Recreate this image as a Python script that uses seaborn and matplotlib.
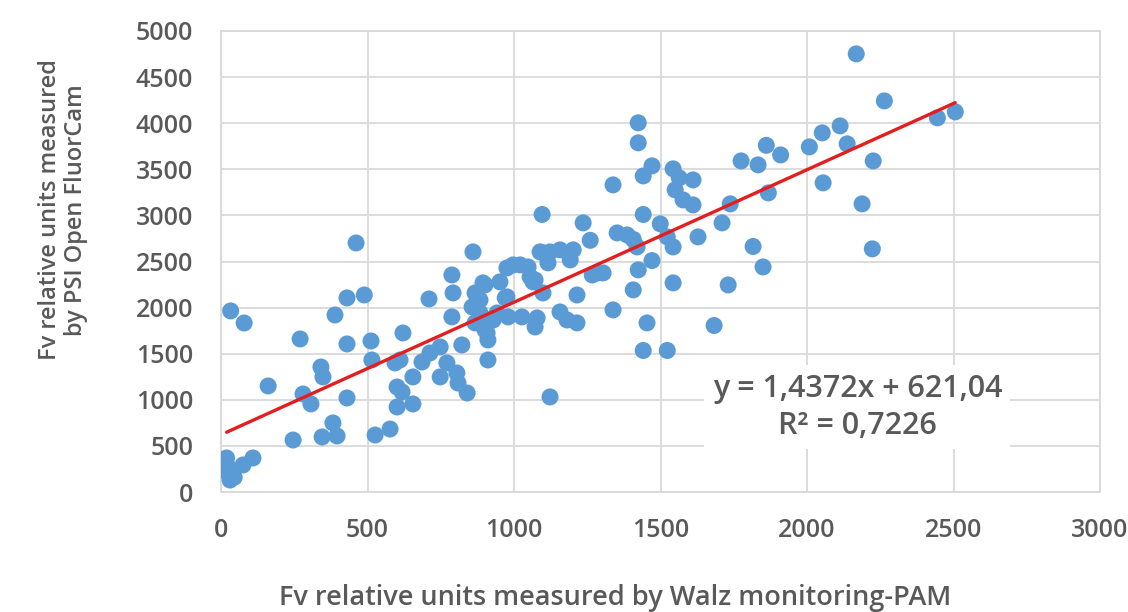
import matplotlib
matplotlib.use("Agg")
import matplotlib.pyplot as plt
import seaborn as sns
import pandas as pd
import numpy as np

# ---- data ----
walz_x = [
    19, 24, 24, 31, 45, 75, 109, 33, 79, 161, 270, 246, 280, 307, 341, 348, 345, 382, 396, 389,
    430, 489, 430, 430, 461, 512, 515, 526, 577, 594, 621, 601, 618, 601, 655, 655, 686, 713, 748, 771,
    748, 805, 809, 840, 710, 788, 792, 788, 822, 860, 867, 894, 911, 908, 891, 611,
    911, 901, 867, 884, 857, 884, 901, 952, 976, 1021, 1048, 1065, 1099, 976, 942, 980, 1027, 1079, 1072,
    1157, 1181, 1215, 1215, 1267, 1123, 1099, 1157, 1192, 929, 970, 1055, 1072, 997, 1116, 1123, 1089, 1202,
    1338, 1096, 1236, 1441, 1499, 1260, 1352, 1386, 1407, 1543, 1628, 1710, 1738, 1816, 1850, 1284, 1304,
    1424, 1471, 1543, 1731, 1407, 1338, 1454, 1441, 1523, 1683, 1523, 1420,
    1424, 1424, 1471, 1441, 1543, 1564, 1611, 1550, 1577, 1611, 1868,
    2168, 2264, 2445, 2506, 2113, 2052, 2008, 2137, 2226, 2055, 2188, 2223, 1861, 1910, 1833, 1775,
]
fluorcam_y = [
    369, 271, 206, 130, 160, 293, 369, 1964, 1833, 1150, 1660, 564, 1063, 955, 1356, 1248, 597, 749, 608, 1920,
    2105, 2137, 1606, 1020, 2701, 1638, 1432, 618, 683, 1400, 1725, 1139, 1085, 922, 955, 1248, 1410, 1508, 1573, 1400,
    1248, 1291, 1182, 1074, 2094, 2354, 2159, 1899, 1595, 2604, 2159, 2268, 1432, 1725, 1899, 1432,
    1649, 1758, 1834, 1942, 2007, 2083, 2246, 2279, 2430, 2463, 2441, 2279, 2159, 2116, 1942, 1899, 1899, 1888, 1790,
    1953, 1866, 1834, 2137, 2354, 1031, 2593, 2626, 2517, 1866, 2105, 2333, 2300, 2463, 2485, 2604, 2604, 2626,
    3331, 3010, 2919, 3010, 2908, 2730, 2810, 2788, 2740, 2658, 2767, 2919, 3125, 2663, 2441, 2376, 2376,
    2409, 2510, 2268, 2246, 2192, 1975, 1834, 1535, 1535, 1806, 2767, 2658,
    4004, 3787, 3537, 3428, 3505, 3407, 3385, 3277, 3168, 3114, 3244,
    4752, 4242, 4058, 4123, 3971, 3895, 3743, 3776, 3591, 3353, 3125, 2637, 3760, 3656, 3548, 3591,
]
trend_slope = 1.4372
trend_intercept = 621.04
r_squared = 0.7226
x_ticks = [0, 500, 1000, 1500, 2000, 2500, 3000]
y_ticks = [0, 500, 1000, 1500, 2000, 2500, 3000, 3500, 4000, 4500, 5000]
x_label = "Fv relative units measured by Walz monitoring-PAM"
y_label = "Fv relative units measured\nby PSI Open FluorCam"
eq_text = "y = 1,4372x + 621,04\nR² = 0,7226"

df = pd.DataFrame({"walz": walz_x, "fluorcam": fluorcam_y})

sns.set_theme(style="white")
plt.rcParams["font.family"] = ["Open Sans", "DejaVu Sans"]

fig = plt.figure(figsize=(11.28, 6.12), dpi=100)
ax = fig.add_axes([221 / 1128, 120 / 612, 879 / 1128, 461 / 612])

grid_c = "#D9D9D9"
text_c = "#595959"

sns.scatterplot(data=df, x="walz", y="fluorcam", ax=ax, s=150, color="#5B9BD5",
                edgecolor="none", linewidth=0, zorder=3)

xs = np.array([min(walz_x), max(walz_x)])
trend = pd.DataFrame({"x": xs, "y": trend_slope * xs + trend_intercept})
sns.lineplot(data=trend, x="x", y="y", ax=ax, color="#E41E1E", linewidth=2.4, zorder=4)

ax.set_xlim(0, 3000)
ax.set_ylim(0, 5000)
ax.set_xticks(x_ticks)
ax.set_yticks(y_ticks)
ax.grid(True, color=grid_c, linewidth=1.3, zorder=0)
ax.set_axisbelow(True)
for sp in ax.spines.values():
    sp.set_color(grid_c)
    sp.set_linewidth(1.3)
ax.tick_params(axis="both", length=0, colors=text_c, labelsize=18)
ax.tick_params(axis="y", pad=20)
ax.tick_params(axis="x", pad=19)
for lab in ax.get_xticklabels() + ax.get_yticklabels():
    lab.set_fontweight("semibold")
ax.set_xlabel("")
ax.set_ylabel("")

fig.text(615 / 1128, 1 - 598 / 612, x_label, ha="center", va="center", fontsize=19.5,
         color=text_c, fontweight="semibold")
fig.text(63 / 1128, 1 - 210 / 612, y_label, ha="center", va="center", fontsize=17,
         color=text_c, fontweight="semibold", rotation=90, linespacing=1.15)

ax.text(2172, 920, eq_text, ha="center", va="center", fontsize=22, color=text_c,
        fontweight="semibold", linespacing=1.3, zorder=5,
        bbox=dict(facecolor="white", edgecolor="none", pad=6))

fig.savefig("out.png", dpi=100)
